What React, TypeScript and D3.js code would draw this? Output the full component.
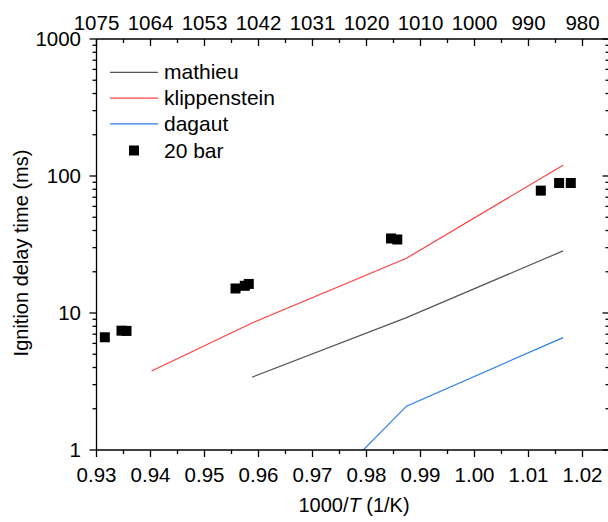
import React from 'react'
import * as d3 from 'd3'

// x values are 1000/T (1/K), y values are ignition delay times (ms)
const mathieuX = [0.9588, 0.9874, 1.0164]
const mathieuY = [3.4, 9.25, 28.4]
const klippX = [0.9402, 0.9589, 0.9874, 1.0164]
const klippY = [3.77, 8.49, 25.1, 120]
const dagautX = [0.9588, 0.9874, 1.0164]
const dagautY = [0.15, 2.09, 6.61]
const expX = [0.93154, 0.93463, 0.93556, 0.95574, 0.95746, 0.9582, 0.98454, 0.9857, 1.01228, 1.01567, 1.01783]
const expY = [6.65, 7.43, 7.4, 15.1, 15.8, 16.3, 35.0, 34.4, 78.2, 88.9, 88.9]

const xTicks = [0.93, 0.94, 0.95, 0.96, 0.97, 0.98, 0.99, 1.0, 1.01, 1.02]
const topLabels = ['1075', '1064', '1053', '1042', '1031', '1020', '1010', '1000', '990', '980']
const yTicks = [1, 10, 100, 1000]

const FONT = '"Liberation Sans", Arial, sans-serif'

const series = [
  { name: 'mathieu', xs: mathieuX, ys: mathieuY, color: '#555555' },
  { name: 'klippenstein', xs: klippX, ys: klippY, color: '#ff4040' },
  { name: 'dagaut', xs: dagautX, ys: dagautY, color: '#2b7de9' },
]

export default function App() {
  const width = 608
  const height = 522
  const left = 96.5, right = 609.5, top = 39, bottom = 450

  const x = d3.scaleLinear().domain([0.93, 1.025]).range([left, right])
  const y = d3.scaleLog().domain([1, 1000]).range([bottom, top])

  const line = d3.line<[number, number]>()
    .x((d) => x(d[0]))
    .y((d) => y(d[1]))

  const xMinor = d3.range(0, 10).map((i) => 0.935 + i * 0.01)
  const yMinor: number[] = []
  for (const dec of [1, 10, 100]) {
    for (let k = 2; k <= 9; k++) yMinor.push(dec * k)
  }
  const fmt = d3.format('.2f')
  const ax = { stroke: '#000', strokeWidth: 1.3 }

  return (
    <div style={{ position: 'fixed', left: 0, top: 0 }}>
      <svg width={width} height={height} style={{ display: 'block', background: '#fff' }} fontFamily={FONT}>
        <defs>
          <clipPath id="plot">
            <rect x={left} y={top} width={right - left} height={bottom - top} />
          </clipPath>
        </defs>

        {/* data lines */}
        <g clipPath="url(#plot)">
          {series.map((s) => (
            <path key={s.name} d={line(s.xs.map((v, i) => [v, s.ys[i]]) as [number, number][]) || ''}
              fill="none" stroke={s.color} strokeWidth={1.2} />
          ))}
          {expX.map((v, i) => (
            <rect key={i} x={x(v) - 5} y={y(expY[i]) - 5} width={10} height={10} fill="#000" />
          ))}
        </g>

        {/* frame */}
        <line x1={left} x2={left} y1={top} y2={bottom} {...ax} />
        <line x1={left} x2={right} y1={bottom} y2={bottom} {...ax} />
        <line x1={left} x2={right} y1={top} y2={top} {...ax} />
        <line x1={right} x2={right} y1={top} y2={bottom} {...ax} />

        {/* bottom axis */}
        {xTicks.map((t) => (
          <g key={'b' + t}>
            <line x1={x(t)} x2={x(t)} y1={bottom} y2={bottom + 7} {...ax} />
            <text x={x(t)} y={482} textAnchor="middle" fontSize={20.5}>{fmt(t)}</text>
          </g>
        ))}
        {xMinor.map((t) => (
          <line key={'bm' + t} x1={x(t)} x2={x(t)} y1={bottom} y2={bottom + 4} {...ax} />
        ))}

        {/* top axis */}
        {xTicks.map((t, i) => (
          <g key={'t' + t}>
            <line x1={x(t)} x2={x(t)} y1={top} y2={top + 7} {...ax} />
            <text x={x(t)} y={30} textAnchor="middle" fontSize={20.5}>{topLabels[i]}</text>
          </g>
        ))}
        {xMinor.map((t) => (
          <line key={'tm' + t} x1={x(t)} x2={x(t)} y1={top} y2={top + 4} {...ax} />
        ))}

        {/* left and right axes */}
        {yTicks.map((t) => (
          <g key={'l' + t}>
            <line x1={left - 7} x2={left} y1={y(t)} y2={y(t)} {...ax} />
            <line x1={right - 7} x2={right} y1={y(t)} y2={y(t)} {...ax} />
            <text x={81} y={y(t) + 7} textAnchor="end" fontSize={20.5}>{t}</text>
          </g>
        ))}
        {yMinor.map((t) => (
          <g key={'lm' + t}>
            <line x1={left - 4} x2={left} y1={y(t)} y2={y(t)} {...ax} />
            <line x1={right - 4} x2={right} y1={y(t)} y2={y(t)} {...ax} />
          </g>
        ))}

        {/* axis titles */}
        <text transform="translate(28,253) rotate(-90)" textAnchor="middle" fontSize={20}>Ignition delay time (ms)</text>
        <text x={354} y={512} textAnchor="middle" fontSize={20}>
          1000/<tspan fontStyle="italic">T</tspan> (1/K)
        </text>

        {/* legend */}
        {series.map((s, i) => (
          <g key={'lg' + s.name}>
            <line x1={110} x2={158} y1={72.3 + i * 25.8} y2={72.3 + i * 25.8} stroke={s.color} strokeWidth={1.2} />
            <text x={164} y={72.3 + i * 25.8 + 7} fontSize={21}>{s.name}</text>
          </g>
        ))}
        <rect x={129} y={145.5} width={10} height={10} fill="#000" />
        <text x={164} y={157.5} fontSize={21}>20 bar</text>
      </svg>
    </div>
  )
}
